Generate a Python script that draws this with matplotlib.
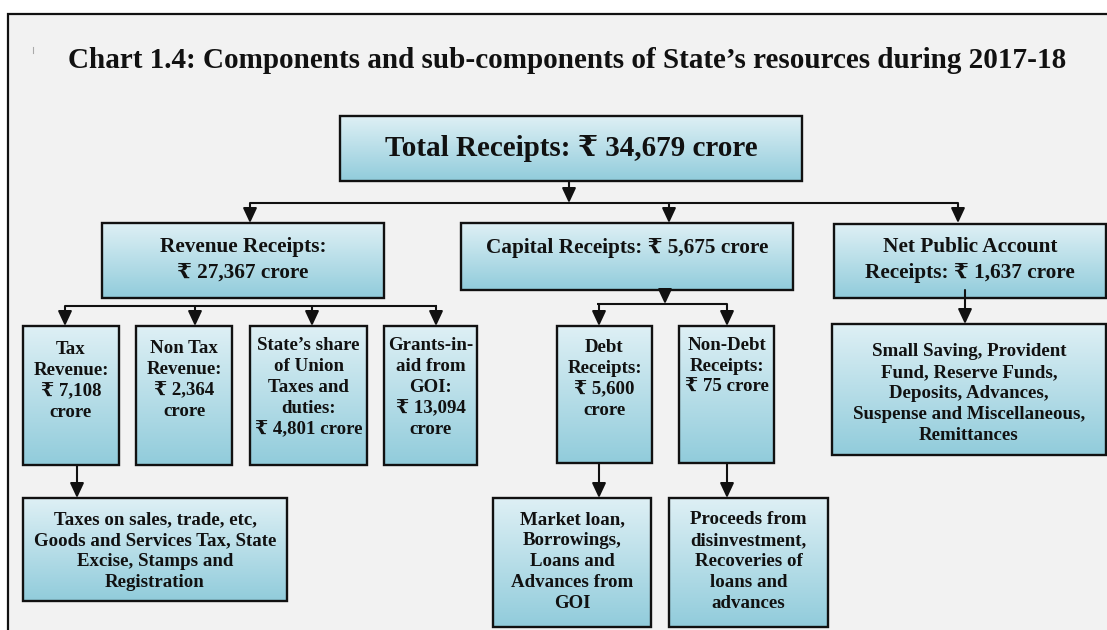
import numpy as np
import matplotlib
matplotlib.use("Agg")
from matplotlib import pyplot as plt
from matplotlib.patches import Rectangle

plt.rcParams['font.family'] = ['Liberation Serif', 'DejaVu Serif', 'DejaVu Sans']
plt.rcParams['font.weight'] = 'bold'

title = "Chart 1.4: Components and sub-components of State\u2019s resources during 2017-18"

# amounts in crore
total_receipts = 34679
main_names = ["Revenue Receipts", "Capital Receipts", "Net Public Account Receipts"]
main_values = [27367, 5675, 1637]
revenue_names = ["Tax Revenue", "Non Tax Revenue", "State\u2019s share of Union Taxes and duties", "Grants-in-aid from GOI"]
revenue_values = [7108, 2364, 4801, 13094]
capital_names = ["Debt Receipts", "Non-Debt Receipts"]
capital_values = [5600, 75]
detail_texts = [
    "Taxes on sales, trade, etc,\nGoods and Services Tax, State\nExcise, Stamps and\nRegistration",
    "Market loan,\nBorrowings,\nLoans and\nAdvances from\nGOI",
    "Proceeds from\ndisinvestment,\nRecoveries of\nloans and\nadvances",
    "Small Saving, Provident\nFund, Reserve Funds,\nDeposits, Advances,\nSuspense and Miscellaneous,\nRemittances",
]

R = "\u20b9"
def amt(v):
    return f"{R} {v:,}"

W, H = 1107, 630
fig = plt.figure(figsize=(W / 100, H / 100), dpi=100)
ax = fig.add_axes([0, 0, 1, 1])
ax.set_xlim(0, W)
ax.set_ylim(H, 0)
ax.axis('off')

# frame
ax.add_patch(Rectangle((8, 14), W, H, facecolor='#f2f2f2', edgecolor='#111111', lw=1.6, zorder=0))
ax.plot([33, 33], [47, 53], color='#aaaaaa', lw=0.8)

ax.text(567, 60, title, ha='center', va='center', fontsize=21, color='#111111')

top_c = np.array([0.87, 0.94, 0.96])
bot_c = np.array([0.57, 0.80, 0.86])
grad = np.linspace(0, 1, 64)[:, None, None]
grad = top_c * (1 - grad) + bot_c * grad

SMALL = 13.6
SLS = 1.3


def box(x0, y0, x1, y1, text, fs, ty=None, va='center', ls=SLS):
    ax.imshow(grad, extent=(x0, x1, y1, y0), origin='upper', aspect='auto', zorder=1,
              interpolation='bilinear')
    ax.add_patch(Rectangle((x0, y0), x1 - x0, y1 - y0, facecolor='none',
                           edgecolor='#111111', lw=1.7, zorder=2))
    if ty is None:
        ty = (y0 + y1) / 2
    ax.text((x0 + x1) / 2, ty, text, ha='center', va=va, fontsize=fs,
            linespacing=ls, color='#111111', zorder=3)


def arrow(x, y0, y1):
    ax.annotate('', xy=(x, y1), xytext=(x, y0),
                arrowprops=dict(arrowstyle='-|>,head_length=0.75,head_width=0.35',
                                color='#111111', lw=1.5, shrinkA=0, shrinkB=0,
                                mutation_scale=12), zorder=4)


def hline(x0, x1, y):
    ax.plot([x0, x1], [y, y], color='#111111', lw=1.5, zorder=4, solid_capstyle='butt')


# top level
box(340, 116, 802, 181, f"Total Receipts: {amt(total_receipts)} crore", 21)
arrow(569, 181, 203)
hline(250, 958, 203)
for x in [250, 669, 958]:
    arrow(x, 203, 223)

box(102, 223, 384, 298, f"{main_names[0]}:\n{amt(main_values[0])} crore", 15.3, ty=260, ls=1.36)
box(461, 223, 793, 290, f"{main_names[1]}: {amt(main_values[1])} crore", 15.3, ty=248)
box(834, 224, 1106, 298, f"Net Public Account\nReceipts: {amt(main_values[2])} crore", 15.3, ty=260, ls=1.36)

# revenue branch
hline(65, 437, 306)
rev_boxes = [(23, 119), (136, 232), (250, 367), (384, 477)]
rev_labels = [
    f"Tax\nRevenue:\n{amt(revenue_values[0])}\ncrore",
    f"Non Tax\nRevenue:\n{amt(revenue_values[1])}\ncrore",
    f"State\u2019s share\nof Union\nTaxes and\nduties:\n{amt(revenue_values[2])} crore",
    f"Grants-in-\naid from\nGOI:\n{amt(revenue_values[3])}\ncrore",
]
for (x0, x1), ax_x, lab, ty in zip(rev_boxes, [65, 195, 312, 436], rev_labels,
                                   [341, 340, 337.5, 337.5]):
    arrow(ax_x, 306, 326)
    box(x0, 326, x1, 465, lab, SMALL, ty=ty, va='top')

arrow(77, 465, 498)
box(23, 498, 287, 601, detail_texts[0], SMALL, ty=511.5, va='top')

# capital branch
arrow(665, 290, 304)
hline(597, 727, 304)
arrow(599, 304, 326)
arrow(727, 304, 326)
box(557, 326, 652, 463, f"Debt\nReceipts:\n{amt(capital_values[0])}\ncrore", SMALL, ty=339, va='top')
box(679, 326, 774, 463, f"Non-Debt\nReceipts:\n{amt(capital_values[1])} crore", SMALL, ty=337, va='top')
arrow(599, 463, 498)
arrow(727, 463, 498)
box(493, 498, 651, 627, detail_texts[1], SMALL, ty=511.5, va='top')
box(669, 498, 828, 627, detail_texts[2], SMALL, ty=511.5, va='top')

# public account branch
arrow(965, 290, 324)
box(832, 324, 1106, 455, detail_texts[3], SMALL, ty=343, va='top')

fig.savefig("out.png", dpi=100, facecolor='white')
